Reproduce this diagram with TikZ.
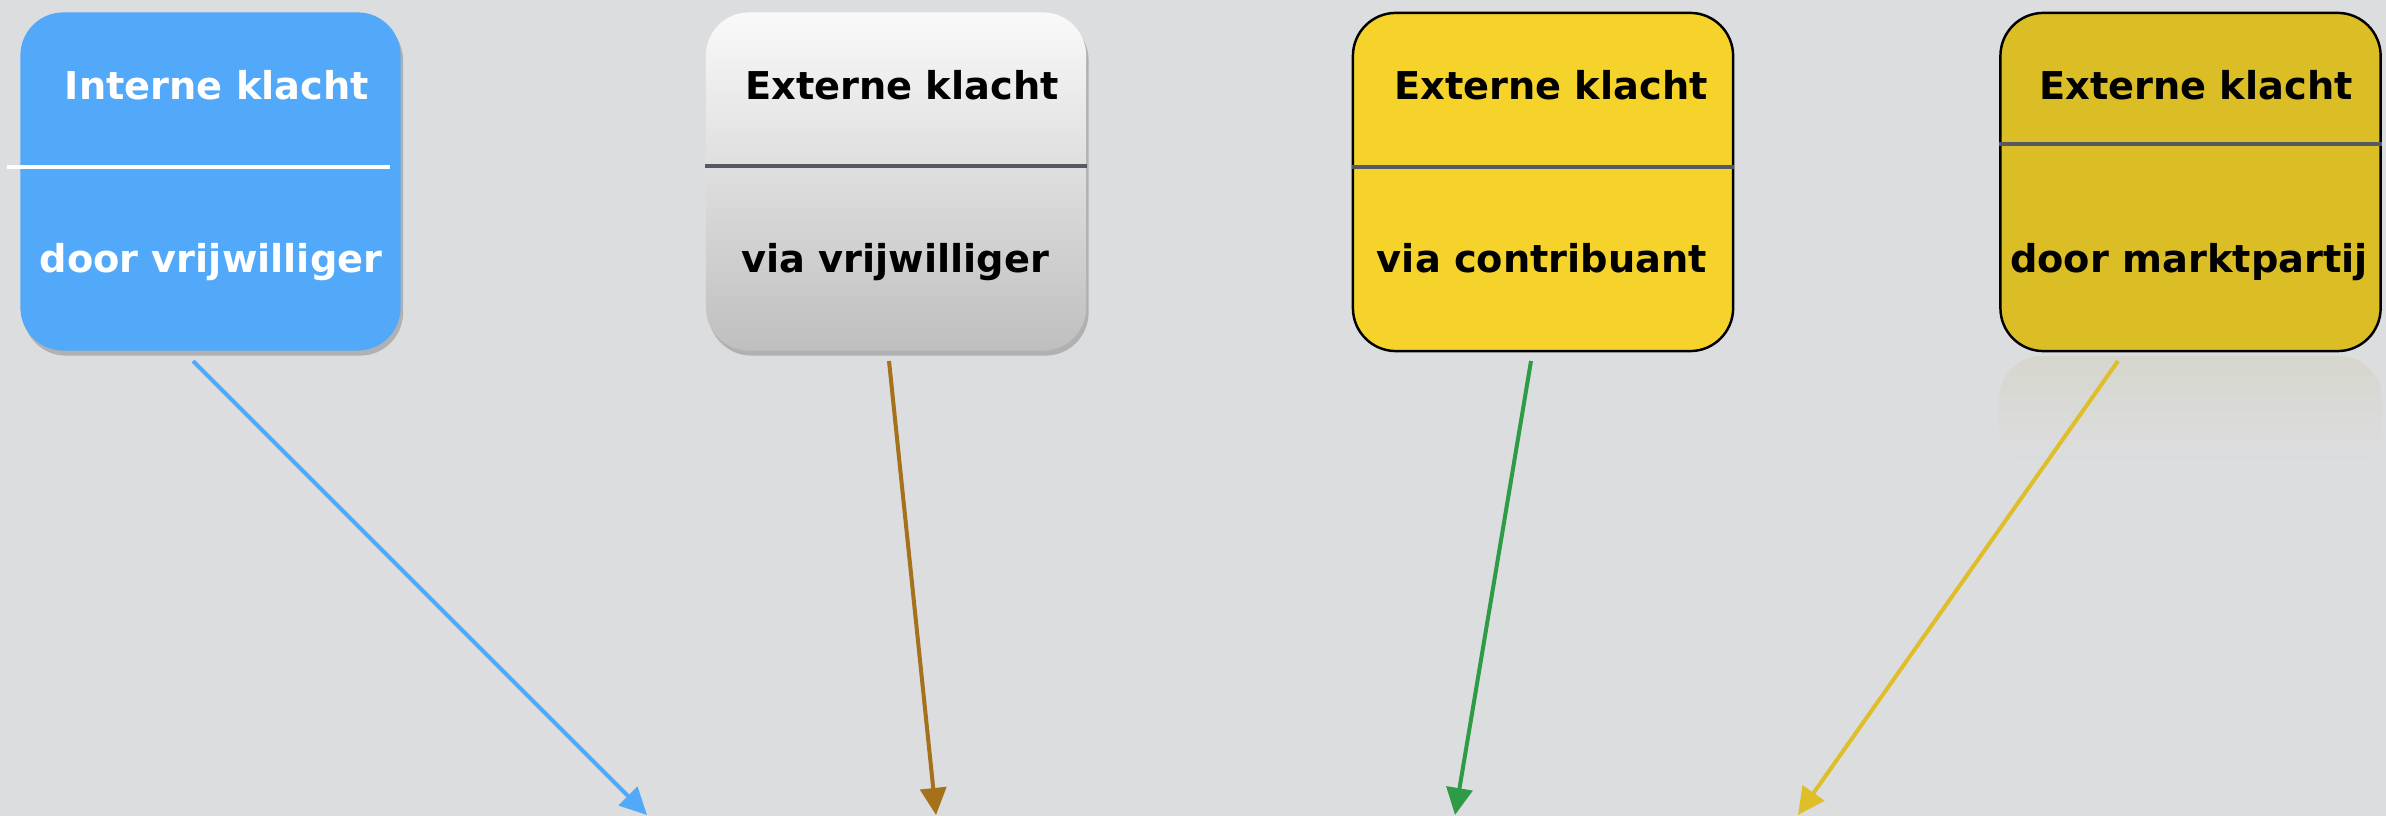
\documentclass[tikz,border=0pt]{standalone}
\usepackage{fontspec}
\setmainfont{DejaVu Sans}
\usetikzlibrary{arrows.meta,shadows}
\definecolor{bg}{HTML}{DCDDDF}
\definecolor{bluebox}{HTML}{52A8F9}
\definecolor{graytop}{HTML}{F9F9F9}
\definecolor{graybot}{HTML}{BFBFBF}
\definecolor{yelbox}{HTML}{F5D32B}
\definecolor{darkyel}{HTML}{DBBD25}
\definecolor{divider}{HTML}{545A62}
\definecolor{brownarr}{HTML}{A5711A}
\definecolor{greenarr}{HTML}{2E9B46}
\definecolor{yelarr}{HTML}{DFBE2A}
\definecolor{reflect}{HTML}{D6D6CD}
\tikzset{
  box/.style={rounded corners=0.43cm, minimum width=3.8cm, minimum height=3.38cm, inner sep=0pt},
  shadowed/.style={drop shadow={shadow xshift=0.025cm, shadow yshift=-0.05cm, opacity=0.3, fill=black!70}},
  lbl/.style={font=\bfseries\fontsize{10.9}{13}\selectfont, anchor=base, inner sep=0pt},
  divline/.style={line width=0.04cm, color=divider},
  conn/.style={line width=0.04cm, -{Triangle[length=0.27cm,width=0.26cm]}}
}
\begin{document}
\begin{tikzpicture}[x=0.01cm,y=-0.01cm]
\fill[bg] (0,0) rectangle (2386,816);
\useasboundingbox (0,0) rectangle (2386,816);
% reflection of box 4
\shade[rounded corners=0.43cm, top color=reflect, bottom color=bg, middle color=bg!60!reflect] (1999,356) rectangle (2382,470);
% boxes
\node[box, fill=bluebox, shadowed] (b1) at (210.5,181.5) {};
\node[box, top color=graytop, bottom color=graybot, shadowed] (b2) at (896,181.5) {};
\node[box, fill=yelbox, draw=black, line width=0.7pt] (b3) at (1543,182) {};
\node[box, fill=darkyel, draw=black, line width=0.7pt] (b4) at (2190.5,182) {};
% dividers
\coordinate (d1a) at (7,167); \coordinate (d1b) at (390,167);
\draw[line width=0.045cm, white] (d1a) -- (d1b);
\draw[divline] (b2.west |- 0,166) -- (b2.east |- 0,166);
\draw[divline] (b3.west |- 0,167) -- (b3.east |- 0,167);
\draw[divline] (b4.west |- 0,144) -- (b4.east |- 0,144);
% labels
\node[lbl, text=white] (t1a) at (217,100) {Interne klacht};
\node[lbl, text=white] (t1b) at (211,273) {door vrijwilliger};
\node[lbl] (t2a) at (902,100) {Externe klacht};
\node[lbl] (t2b) at (895,273) {via vrijwilliger};
\node[lbl] (t3a) at (1551,100) {Externe klacht};
\node[lbl] (t3b) at (1542,273) {via contribuant};
\node[lbl] (t4a) at (2196,100) {Externe klacht};
\node[lbl] (t4b) at (2189,273) {door marktpartij};
% connectors
\coordinate (s1) at (193,361); \coordinate (e1) at (647,815);
\coordinate (s2) at (889,361); \coordinate (e2) at (936,815);
\coordinate (s3) at (1531,361); \coordinate (e3) at (1455,815);
\coordinate (s4) at (2118,361); \coordinate (e4) at (1798,815);
\draw[conn, bluebox] (s1) -- (e1);
\draw[conn, brownarr] (s2) -- (e2);
\draw[conn, greenarr] (s3) -- (e3);
\draw[conn, yelarr] (s4) -- (e4);
\end{tikzpicture}
\end{document}
